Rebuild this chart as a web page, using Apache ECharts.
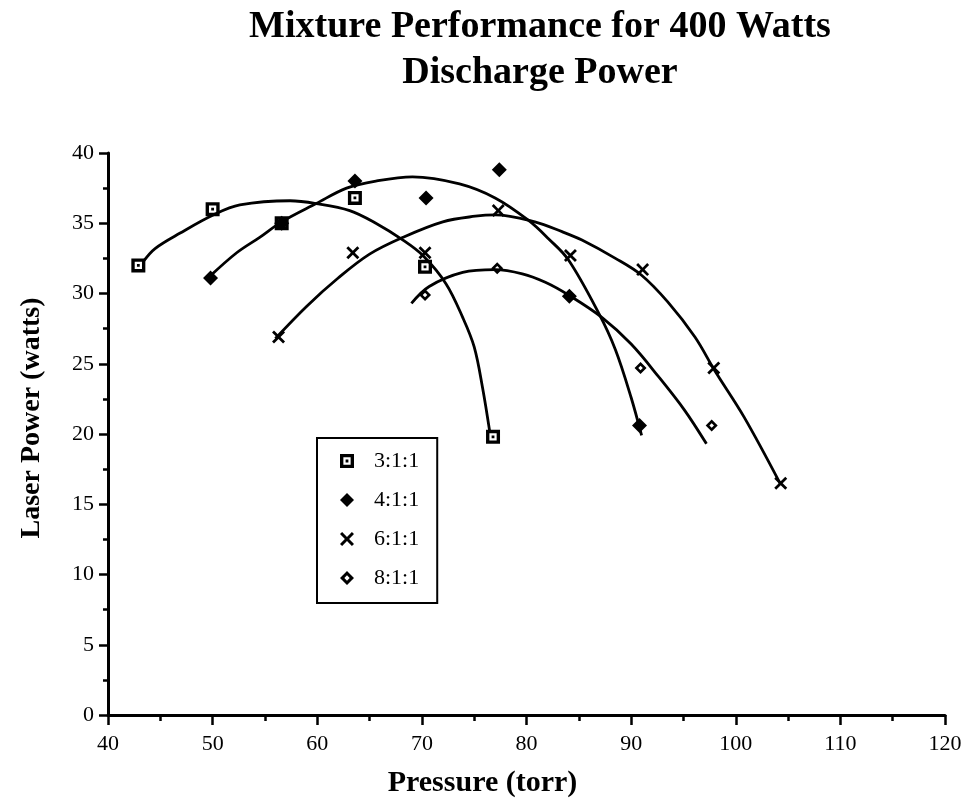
<!DOCTYPE html>
<html>
<head>
<meta charset="utf-8">
<script src="https://cdn.jsdelivr.net/npm/echarts@6/dist/echarts.min.js"></script>
<style>
  html, body { margin: 0; padding: 0; background: #fff; }
  #chart { width: 970px; height: 810px; }
</style>
</head>
<body>
<div id="chart"></div>
<script>
// Measured laser output for each gas mixture ratio (pressure in torr, power in watts)
const ratios = ['3:1:1', '4:1:1', '6:1:1', '8:1:1'];

const p311 = [42.9, 50.0, 56.6, 63.6, 70.3, 76.8];
const w311 = [32.0, 36.0, 35.0, 36.8, 31.9, 19.8];

const p411 = [49.8, 56.6, 63.6, 70.4, 77.4, 84.1, 90.8];
const w411 = [31.1, 35.0, 38.0, 36.8, 38.8, 29.8, 20.6];

const p611 = [56.3, 63.4, 70.3, 77.3, 84.2, 91.1, 97.9, 104.3];
const w611 = [26.9, 32.9, 32.9, 35.9, 32.7, 31.7, 24.7, 16.5];

const p811 = [70.3, 77.2, 84.1, 90.9, 97.7];
const w811 = [29.9, 31.8, 29.8, 24.7, 20.6];

// Hand-drawn trend curves through each mixture's data
const fitP311 = [43.4, 44.5, 46.9, 50.1, 52.6, 57.4, 59.9, 63.1, 65.6, 68.2, 70.1, 72.3, 73.9, 75.0, 75.8, 76.5];
const fitW311 = [32.3, 33.2, 34.3, 35.6, 36.3, 36.6, 36.4, 35.9, 35.0, 33.8, 32.7, 30.7, 28.3, 26.2, 23.3, 20.1];

const fitP411 = [49.7, 52.3, 54.5, 56.6, 59.9, 62.8, 65.6, 69.1, 73.6, 77.0, 80.2, 82.1, 84.0, 86.9, 88.5, 90.0, 91.0];
const fitW411 = [31.2, 32.9, 34.0, 35.1, 36.4, 37.5, 38.0, 38.3, 37.8, 36.8, 35.2, 33.9, 32.4, 28.6, 26.0, 22.6, 19.9];

const fitP611 = [56.0, 59.0, 62.0, 65.0, 68.2, 72.0, 75.1, 77.0, 80.8, 83.4, 85.3, 88.5, 91.0, 93.5, 96.1, 98.0, 100.8, 104.3];
const fitW611 = [26.8, 29.1, 31.1, 32.8, 34.0, 35.1, 35.5, 35.6, 35.1, 34.4, 33.8, 32.5, 31.3, 29.4, 26.9, 24.5, 21.2, 16.4];

const fitP811 = [69.0, 70.7, 73.9, 77.0, 79.6, 81.8, 84.0, 87.2, 90.0, 92.6, 95.1, 97.2];
const fitW811 = [29.3, 30.5, 31.5, 31.7, 31.4, 30.8, 29.9, 28.3, 26.4, 24.1, 21.7, 19.3];

// Axis tick settings
const xTicks = { min: 40, max: 120, step: 10 };
const yTicks = { min: 0, max: 40, step: 5 };

const pair = (xs, ys) => xs.map((x, i) => [x, ys[i]]);

// Marker shapes
const squareDot = 'path://M0,0H10V10H0Z M2.4,2.4V7.6H7.6V2.4Z M4,4H6V6H4Z';
const crossMark = 'path://M0,1.5L1.5,0L5,3.5L8.5,0L10,1.5L6.5,5L10,8.5L8.5,10L5,6.5L1.5,10L0,8.5L3.5,5Z';
const openDiamond = 'path://M5,0L10,5L5,10L0,5Z M5,3.1L3.1,5L5,6.9L6.9,5Z';

const serif = '"Liberation Serif", "DejaVu Serif", serif';

function curve(xs, ys) {
  return {
    type: 'line',
    data: pair(xs, ys),
    showSymbol: false,
    smooth: 0.35,
    silent: true,
    z: 2,
    lineStyle: { color: '#000', width: 2.8 },
    legendHoverLink: false
  };
}

function points(name, xs, ys, symbol, size, z) {
  return {
    name: name,
    type: 'scatter',
    data: pair(xs, ys),
    symbol: symbol,
    symbolSize: size,
    z: z,
    itemStyle: { color: '#000', opacity: 1 }
  };
}

const chart = echarts.init(document.getElementById('chart'), null, { renderer: 'canvas' });

chart.setOption({
  backgroundColor: '#fff',
  animation: false,
  title: {
    text: 'Mixture Performance for 400 Watts\nDischarge Power',
    left: 540,
    top: 4,
    padding: 0,
    textAlign: 'center',
    textStyle: {
      fontFamily: serif,
      fontWeight: 'bold',
      fontSize: 38,
      lineHeight: 46,
      color: '#000'
    }
  },
  grid: { left: 108, right: 25, top: 153, bottom: 95 },
  legend: {
    orient: 'vertical',
    left: 317,
    top: 438,
    data: ratios,
    selectedMode: false,
    itemWidth: 14,
    itemHeight: 14,
    itemGap: 17,
    padding: [12, 18, 14, 23],
    borderColor: '#000',
    borderWidth: 2,
    borderRadius: 0,
    backgroundColor: '#fff',
    textStyle: {
      fontFamily: serif,
      fontSize: 22,
      lineHeight: 20,
      color: '#000',
      padding: [0, 0, 0, 15]
    }
  },
  xAxis: {
    type: 'value',
    min: xTicks.min,
    max: xTicks.max,
    interval: xTicks.step,
    name: 'Pressure (torr)',
    nameLocation: 'middle',
    nameGap: 53,
    nameTextStyle: { fontFamily: serif, fontWeight: 'bold', fontSize: 30, color: '#000', padding: [0, 88, 0, 0] },
    axisLine: { show: true, onZero: false, lineStyle: { color: '#000', width: 3 } },
    axisTick: { show: true, length: 10, lineStyle: { color: '#000', width: 2.5 } },
    minorTick: { show: true, splitNumber: 2, length: 6, lineStyle: { color: '#000', width: 2.5 } },
    splitLine: { show: false },
    axisLabel: { fontFamily: serif, fontSize: 22, color: '#000', margin: 18 }
  },
  yAxis: {
    type: 'value',
    min: yTicks.min,
    max: yTicks.max,
    interval: yTicks.step,
    name: 'Laser Power (watts)',
    nameLocation: 'middle',
    nameGap: 62,
    nameTextStyle: { fontFamily: serif, fontWeight: 'bold', fontSize: 28, color: '#000', padding: [0, 0, 0, 32] },
    axisLine: { show: true, onZero: false, lineStyle: { color: '#000', width: 3 } },
    axisTick: { show: true, length: 9, lineStyle: { color: '#000', width: 2.5 } },
    minorTick: { show: true, splitNumber: 2, length: 5, lineStyle: { color: '#000', width: 2.5 } },
    splitLine: { show: false },
    axisLabel: { fontFamily: serif, fontSize: 22, color: '#000', margin: 14 }
  },
  series: [
    curve(fitP311, fitW311),
    curve(fitP411, fitW411),
    curve(fitP611, fitW611),
    curve(fitP811, fitW811),
    points(ratios[3], p811, w811, openDiamond, 12, 3),
    points(ratios[0], p311, w311, squareDot, 14, 4),
    points(ratios[2], p611, w611, crossMark, 13, 4),
    points(ratios[1], p411, w411, 'diamond', 15, 5)
  ]
});
</script>
</body>
</html>
